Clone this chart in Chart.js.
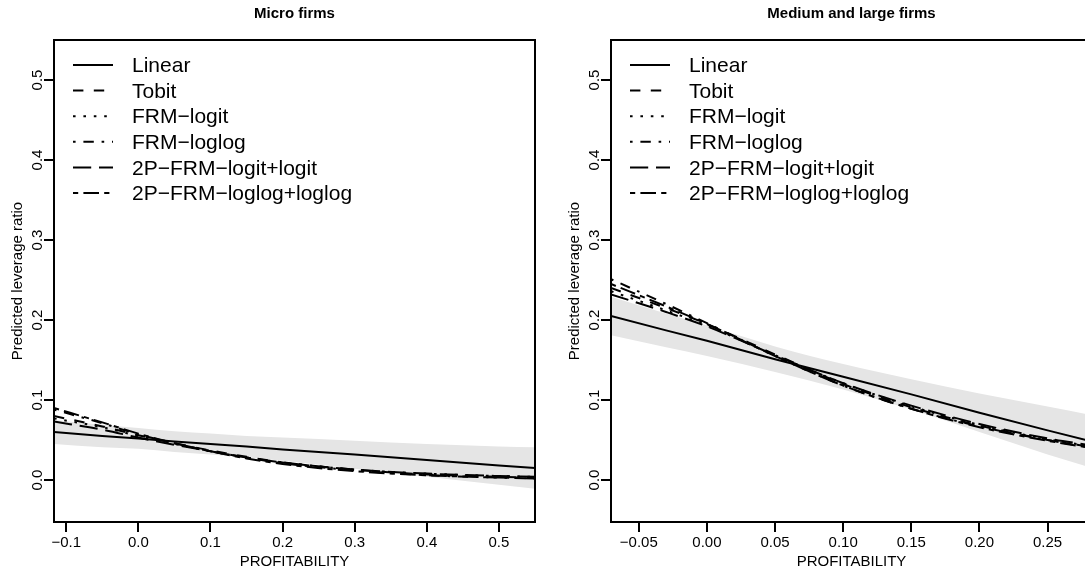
<!DOCTYPE html>
<html><head><meta charset="utf-8">
<script src="https://cdn.jsdelivr.net/npm/chart.js@4/dist/chart.umd.min.js"></script>
<style>
html,body{margin:0;padding:0;background:#fff;width:1085px;height:573px;overflow:hidden;}
#wrap{position:relative;width:1085px;height:573px;overflow:hidden;background:#fff;}
#c1{position:absolute;left:0;top:0;}
#c2{position:absolute;left:542px;top:0;}
</style></head><body>
<div id="wrap"><canvas id="c1" width="542" height="573"></canvas><canvas id="c2" width="560" height="573"></canvas></div>
<script>
// ---- labels ----
const seriesNames = ['Linear','Tobit','FRM\u2212logit','FRM\u2212loglog','2P\u2212FRM\u2212logit+logit','2P\u2212FRM\u2212loglog+loglog'];
const panelTitles = ['Micro firms','Medium and large firms'];
const yTitle = 'Predicted leverage ratio';
const xTitle = 'PROFITABILITY';
const yTicks = [0,0.1,0.2,0.3,0.4,0.5];
const yTickLabels = ['0.0','0.1','0.2','0.3','0.4','0.5'];
const xTicksMicro = [-0.1,0,0.1,0.2,0.3,0.4,0.5];
const xTickLabelsMicro = ['\u22120.1','0.0','0.1','0.2','0.3','0.4','0.5'];
const xTicksLarge = [-0.05,0,0.05,0.1,0.15,0.2,0.25];
const xTickLabelsLarge = ['\u22120.05','0.00','0.05','0.10','0.15','0.20','0.25'];

// ---- Micro firms ----
const xMicro        = [-0.117,-0.05, 0,    0.05, 0.1,  0.15, 0.2,  0.3,  0.4,  0.5,   0.55];
const microLinear   = [0.060, 0.055, 0.052,0.048,0.045,0.042,0.038,0.032,0.025,0.018, 0.015];
const microLower    = [0.045, 0.041, 0.039,0.035,0.032,0.028,0.024,0.014,0.004,-0.006,-0.011];
const microUpper    = [0.075, 0.069, 0.065,0.061,0.058,0.055,0.053,0.049,0.045,0.042, 0.041];
const microTobit    = [0.080, 0.067, 0.056,0.046,0.037,0.029,0.022,0.013,0.007,0.004, 0.003];
const microFrmLogit = [0.077, 0.066, 0.055,0.045,0.036,0.028,0.022,0.013,0.008,0.005, 0.004];
const microFrmLoglog= [0.088, 0.071, 0.057,0.046,0.036,0.028,0.021,0.012,0.006,0.003, 0.002];
const micro2pLogit  = [0.073, 0.063, 0.053,0.044,0.036,0.028,0.022,0.013,0.008,0.005, 0.004];
const micro2pLoglog = [0.090, 0.072, 0.058,0.046,0.036,0.027,0.020,0.011,0.006,0.003, 0.002];

// ---- Medium and large firms ----
const xLarge        = [-0.0704,-0.03, 0,    0.05, 0.1,  0.15, 0.2,  0.25, 0.2826];
const largeLinear   = [0.205, 0.187, 0.174,0.151,0.129,0.107,0.084,0.062,0.048];
const largeLower    = [0.181, 0.166, 0.155,0.135,0.113,0.088,0.060,0.032,0.015];
const largeUpper    = [0.229, 0.208, 0.193,0.167,0.145,0.126,0.108,0.092,0.081];
const largeTobit    = [0.240, 0.215, 0.195,0.157,0.120,0.091,0.068,0.050,0.040];
const largeFrmLogit = [0.236, 0.212, 0.193,0.156,0.121,0.092,0.069,0.051,0.042];
const largeFrmLoglog= [0.251, 0.220, 0.196,0.155,0.118,0.089,0.067,0.050,0.041];
const large2pLogit  = [0.232, 0.210, 0.192,0.156,0.121,0.093,0.070,0.052,0.043];
const large2pLoglog = [0.245, 0.217, 0.195,0.155,0.118,0.089,0.066,0.049,0.040];

// ---- styles ----
const FONT = '"Liberation Sans", Arial, Helvetica, sans-serif';
const U = 2.6;
const dashes = [[], [4*U,4*U], [U,3*U], [U,3*U,4*U,3*U], [7*U,3*U], [2*U,2*U,6*U,2*U]];
const BAND = 'rgb(229,229,229)';

function pts(xs, ys){ return xs.map((x,i)=>({x:x, y:ys[i]})); }

function makePanel(id, opt){
  const lines = opt.series.map((ys,i)=>({
    label: seriesNames[i], data: pts(opt.xs, ys), borderColor:'#000', borderWidth:2,
    borderDash: dashes[i], borderCapStyle:'butt', pointRadius:0, fill:false,
    cubicInterpolationMode: i===0 ? 'default' : 'monotone', tension:0
  }));
  const band = [
    {label:'_lower', data: pts(opt.xs, opt.lower), borderColor:'rgba(0,0,0,0)', borderWidth:0, pointRadius:0, fill:false, cubicInterpolationMode:'monotone'},
    {label:'_upper', data: pts(opt.xs, opt.upper), borderColor:'rgba(0,0,0,0)', borderWidth:0, pointRadius:0, fill:'-1', backgroundColor:BAND, cubicInterpolationMode:'monotone'}
  ];
  const deco = {
    id:'deco',
    afterDraw(chart){
      const ctx = chart.ctx, a = chart.chartArea, ys = chart.scales.y;
      ctx.save();
      // box
      ctx.strokeStyle='#000'; ctx.lineWidth=2; ctx.setLineDash([]);
      ctx.strokeRect(a.left, a.top, a.right-a.left, a.bottom-a.top);
      // title
      ctx.fillStyle='#000';
      ctx.font = 'bold 15px '+FONT; ctx.textAlign='center'; ctx.textBaseline='middle';
      ctx.fillText(opt.title, (a.left+a.right)/2, 14);
      // y tick labels (rotated, parallel to axis)
      ctx.font = '15px '+FONT;
      yTicks.forEach((v,i)=>{
        const py = ys.getPixelForValue(v);
        ctx.save(); ctx.translate(a.left-16, py); ctx.rotate(-Math.PI/2);
        ctx.textAlign='center'; ctx.textBaseline='middle';
        ctx.fillText(yTickLabels[i], 0, 0); ctx.restore();
      });
      // legend
      ctx.font = '21px '+FONT; ctx.textAlign='left'; ctx.textBaseline='middle';
      chart.data.datasets.forEach((d,i)=>{
        if (d.label.startsWith('_')) return;
        const y = a.top + 25 + i*25.6;
        ctx.beginPath(); ctx.setLineDash(d.borderDash); ctx.lineCap='butt'; ctx.lineWidth=2;
        ctx.moveTo(a.left+19, y); ctx.lineTo(a.left+59, y); ctx.stroke();
        ctx.setLineDash([]);
        ctx.fillText(d.label, a.left+78, y+1.5);
      });
      ctx.restore();
    }
  };
  return new Chart(document.getElementById(id), {
    type:'line',
    data:{ datasets: lines.concat(band) },
    options:{
      responsive:false, animation:false, devicePixelRatio:1,
      layout:{ padding:{ left:0, top:40, right:opt.padRight, bottom:0 } },
      plugins:{ legend:{display:false}, tooltip:{enabled:false}, title:{display:false},
                filler:{ drawTime:'beforeDatasetsDraw' } },
      scales:{
        x:{ type:'linear', min:opt.xmin, max:opt.xmax,
            afterBuildTicks:(s)=>{ s.ticks = opt.xt.map(v=>({value:v})); },
            afterFit:(s)=>{ s.height = 51; },
            ticks:{ autoSkip:false, maxRotation:0, minRotation:0, padding:2, color:'#000',
                    font:{family:FONT, size:15}, callback:(v,i)=>opt.xl[i] },
            grid:{ display:true, drawOnChartArea:false, drawTicks:true, tickLength:10, color:'#000', lineWidth:2 },
            border:{ display:false },
            title:{ display:true, text:xTitle, color:'#000', font:{family:FONT, size:15}, padding:{top:0,bottom:2} } },
        y:{ type:'linear', min:-0.0525, max:0.55,
            afterBuildTicks:(s)=>{ s.ticks = yTicks.map(v=>({value:v})); },
            afterFit:(s)=>{ s.width = opt.yw; },
            ticks:{ display:false },
            grid:{ display:true, drawOnChartArea:false, drawTicks:true, tickLength:10, color:'#000', lineWidth:2 },
            border:{ display:false },
            title:{ display:true, text:yTitle, color:'#000', font:{family:FONT, size:15}, padding:{top:opt.ytp,bottom:0} } }
      }
    },
    plugins:[deco]
  });
}

makePanel('c1', { title:panelTitles[0], xs:xMicro, lower:microLower, upper:microUpper,
  series:[microLinear, microTobit, microFrmLogit, microFrmLoglog, micro2pLogit, micro2pLoglog],
  xmin:-0.117, xmax:0.55, xt:xTicksMicro, xl:xTickLabelsMicro, yw:54, padRight:7, ytp:9 });
makePanel('c2', { title:panelTitles[1], xs:xLarge, lower:largeLower, upper:largeUpper,
  series:[largeLinear, largeTobit, largeFrmLogit, largeFrmLoglog, large2pLogit, large2pLoglog],
  xmin:-0.0704, xmax:0.2826, xt:xTicksLarge, xl:xTickLabelsLarge, yw:69, padRight:10, ytp:24 });
</script>
</body></html>
